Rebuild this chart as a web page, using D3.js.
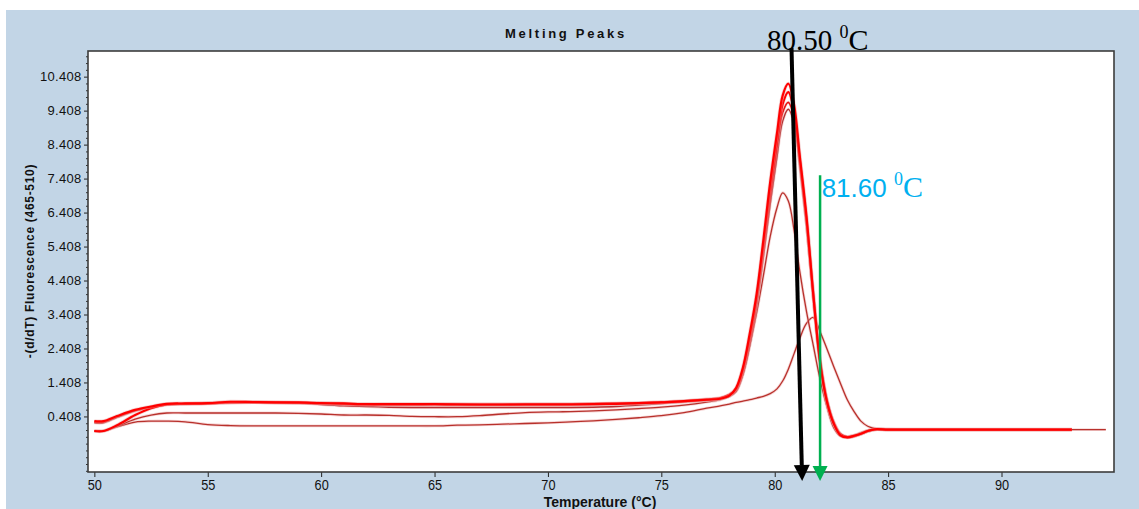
<!DOCTYPE html>
<html><head><meta charset="utf-8">
<script src="https://cdn.jsdelivr.net/npm/d3@7"></script>
<style>body{margin:0;background:#fff}svg{display:block}</style>
</head><body>
<svg id="c" width="1139" height="509"></svg>
<script>
// ---------------- data ----------------
const temps = [50,50.4,51,51.8,52.5,53.2,54,55,56,57,58,59,60,61,62,63,64,65,66,67,68,69,70,71,72,73,74,75,76,77,77.6,78,78.3,78.6,78.9,79.2,79.5,79.8,80.1,80.35,80.6,80.85,81.1,81.4,81.7,82.0,82.3,82.6,82.9,83.2,83.5,83.8,84.1,84.4,85,86,87,88,89,90,91,92,93.1,94.6];

const sampleH1 = [0.27,0.27,0.42,0.60,0.70,0.78,0.79,0.80,0.84,0.83,0.82,0.82,0.80,0.79,0.77,0.77,0.77,0.77,0.76,0.76,0.76,0.76,0.76,0.76,0.77,0.78,0.80,0.82,0.86,0.90,0.93,1.02,1.25,1.85,2.85,4.00,5.60,7.30,8.75,9.85,10.20,9.60,8.10,6.30,4.00,2.00,0.85,0.20,-0.15,-0.21,-0.16,-0.10,-0.02,0.03,0.02,0.02,0.02,0.02,0.02,0.02,0.02,0.02,0.02,null];
const sampleH2 = [-0.02,-0.02,0.15,0.45,0.65,0.76,0.78,0.79,0.82,0.83,0.82,0.81,0.80,0.78,0.76,0.76,0.76,0.77,0.77,0.76,0.76,0.77,0.77,0.77,0.78,0.79,0.80,0.83,0.86,0.91,0.95,1.05,1.22,1.80,2.75,3.90,5.45,7.10,8.50,9.60,9.95,9.40,8.00,6.20,4.00,2.05,0.88,0.22,-0.12,-0.20,-0.17,-0.10,-0.02,0.03,0.02,0.02,0.02,0.02,0.02,0.02,0.02,0.02,0.02,null];
const sampleH3 = [0.24,0.24,0.40,0.58,0.69,0.77,0.78,0.79,0.81,0.82,0.81,0.80,0.79,0.76,0.75,0.75,0.75,0.76,0.75,0.74,0.74,0.75,0.75,0.76,0.76,0.77,0.79,0.81,0.84,0.89,0.93,1.03,1.18,1.70,2.60,3.75,5.25,6.85,8.30,9.35,9.65,9.20,7.90,6.10,3.95,2.00,0.85,0.20,-0.14,-0.21,-0.17,-0.11,-0.03,0.02,0.02,0.02,0.02,0.02,0.02,0.02,0.02,0.02,0.02,null];
const sampleH4 = [0.22,0.22,0.38,0.57,0.68,0.76,0.78,0.80,0.83,0.83,0.82,0.81,0.76,0.72,0.70,0.68,0.67,0.67,0.67,0.67,0.67,0.67,0.67,0.67,0.68,0.70,0.74,0.79,0.84,0.88,0.92,1.00,1.15,1.65,2.50,3.65,5.10,6.65,8.05,9.10,9.45,9.05,7.80,6.05,3.95,2.05,0.90,0.25,-0.10,-0.19,-0.16,-0.10,-0.03,0.02,0.02,0.02,0.02,0.02,0.02,0.02,0.02,0.02,0.02,null];
const sampleP7 = [-0.02,-0.02,0.12,0.33,0.45,0.51,0.51,0.51,0.51,0.51,0.51,0.50,0.48,0.45,0.45,0.44,0.41,0.40,0.40,0.43,0.48,0.52,0.54,0.55,0.57,0.60,0.64,0.68,0.74,0.83,0.90,1.00,1.15,1.65,2.50,3.45,4.55,5.70,6.55,6.99,6.75,5.90,4.70,3.50,2.50,1.50,0.70,0.08,-0.17,-0.19,-0.14,-0.07,0.00,0.02,0.02,0.02,0.02,0.02,0.02,0.02,0.02,0.02,0.02,null];
const sampleP3 = [-0.02,-0.02,0.10,0.24,0.27,0.27,0.25,0.17,0.14,0.13,0.13,0.13,0.13,0.13,0.13,0.13,0.13,0.13,0.15,0.16,0.18,0.20,0.22,0.25,0.28,0.32,0.37,0.43,0.52,0.65,0.72,0.77,0.82,0.86,0.90,0.95,1.00,1.08,1.22,1.45,1.80,2.25,2.70,3.15,3.32,2.90,2.40,1.88,1.38,0.90,0.55,0.27,0.12,0.06,0.03,0.02,0.02,0.02,0.02,0.02,0.02,0.02,0.02,0.02];

const yTickValues = [0.408,1.408,2.408,3.408,4.408,5.408,6.408,7.408,8.408,9.408,10.408];
const xTickValues = [50,55,60,65,70,75,80,85,90];

const chartTitle = "Melting Peaks";
const xTitle = "Temperature (°C)";
const yTitle = "-(d/dT) Fluorescence (465-510)";

// annotation markers (data units: temperature, fluorescence)
const tmBlack = {label:"80.50", top:[80.74, 11.25], bottom:[81.21, -1.49], text:[79.66, 11.19]};
const tmGreen = {label:"81.60", top:[82.0, 7.51], bottom:[82.0, -1.49], text:[82.07, 6.87]};

// ---------------- drawing ----------------
const svg = d3.select("#c");
svg.append("rect").attr("x",6).attr("y",10).attr("width",1133).attr("height",499).attr("fill","#c2d5e6");

const L = 88, R = 1114, T = 51, B = 472;
const x = d3.scaleLinear().domain([49.72, 94.96]).range([L, R]);
const y = d3.scaleLinear().domain([-1.227, 11.163]).range([B, T]);

svg.append("rect").attr("x",L).attr("y",T).attr("width",R-L).attr("height",B-T).attr("fill","#fff");

// minor y ticks
const minorVals = d3.range(-8, 54).map(k => +(0.408 + 0.2*k).toFixed(3))
  .filter(v => v >= -1.227 && v <= 11.163 && !yTickValues.some(m => Math.abs(m - v) < 1e-6));
svg.append("g").attr("transform",`translate(${L},0)`)
  .call(d3.axisLeft(y).tickValues(minorVals).tickSize(2).tickFormat("").tickSizeOuter(0))
  .call(g => g.select(".domain").remove())
  .call(g => g.selectAll("line").attr("stroke","#333"));

const yAx = svg.append("g").attr("transform",`translate(${L},0)`)
  .call(d3.axisLeft(y).tickValues(yTickValues).tickFormat(d3.format(".3f")).tickSize(4).tickPadding(2.5).tickSizeOuter(0));
yAx.select(".domain").remove();
yAx.selectAll("line").attr("stroke","#222");
yAx.selectAll("text").attr("font-family","'Liberation Sans', Arial, sans-serif").attr("font-size","13px").attr("letter-spacing","0.3px").attr("fill","#111");

const xAx = svg.append("g").attr("transform",`translate(0,${B})`)
  .call(d3.axisBottom(x).tickValues(xTickValues).tickFormat(d3.format("d")).tickSize(5).tickPadding(2.5).tickSizeOuter(0));
xAx.select(".domain").remove();
xAx.selectAll("line").attr("stroke","#222");
xAx.selectAll("text").attr("font-family","'Liberation Sans', Arial, sans-serif").attr("font-size","15px").attr("fill","#111").attr("transform","scale(0.85,1)");

// frame
svg.append("rect").attr("x",L).attr("y",T).attr("width",R-L).attr("height",B-T)
  .attr("fill","none").attr("stroke","#3c3c3c").attr("stroke-width",1.6);

// curves
const line = d3.line()
  .defined(d => d[1] !== null)
  .x(d => x(d[0])).y(d => y(d[1]))
  .curve(d3.curveCatmullRom.alpha(0.5));

const series = [
  {v: sampleP3, c: "#b8312c", w: 1.3},
  {v: sampleP7, c: "#b8312c", w: 1.3},
  {v: sampleH4, c: "#b23030", w: 1.4},
  {v: sampleH3, c: "#e81010", w: 1.6},
  {v: sampleH2, c: "#ff0000", w: 2.2},
  {v: sampleH1, c: "#ff0000", w: 2.2}
];
const gCurves = svg.append("g");
series.forEach(s => {
  const pts = temps.map((t,i) => [t, s.v[i]]);
  gCurves.append("path").datum(pts).attr("d", line)
    .attr("fill","none").attr("stroke","#eaa6a6").attr("stroke-width", s.w + 1.6).attr("stroke-opacity",0.45);
  gCurves.append("path").datum(pts).attr("d", line)
    .attr("fill","none").attr("stroke", s.c).attr("stroke-width", s.w).attr("stroke-linejoin","round");
});

// titles
svg.append("text").attr("x",566).attr("y",38).attr("text-anchor","middle")
  .attr("font-family","'Liberation Sans', Arial, sans-serif").attr("font-weight","bold")
  .attr("font-size","13px").attr("letter-spacing","2.7px").attr("fill","#111").text(chartTitle);
svg.append("text").attr("x",600).attr("y",507).attr("text-anchor","middle")
  .attr("font-family","'Liberation Sans', Arial, sans-serif").attr("font-weight","bold")
  .attr("font-size","14px").attr("fill","#111").text(xTitle);
svg.append("text").attr("transform","translate(34,261) rotate(-90)").attr("text-anchor","middle")
  .attr("font-family","'Liberation Sans', Arial, sans-serif").attr("font-weight","bold")
  .attr("font-size","12px").attr("letter-spacing","0.7px").attr("fill","#111").text(yTitle);

// annotation arrows
function arrow(m, color, width, head) {
  const x1 = x(m.top[0]), y1 = y(m.top[1]), x2 = x(m.bottom[0]), y2 = y(m.bottom[1]);
  const ang = Math.atan2(y2 - y1, x2 - x1);
  const bx = x2 - head * Math.cos(ang), by = y2 - head * Math.sin(ang);
  const px = -Math.sin(ang), py = Math.cos(ang), hw = head * 0.5;
  svg.append("line").attr("x1",x1).attr("y1",y1).attr("x2",bx).attr("y2",by)
    .attr("stroke",color).attr("stroke-width",width);
  svg.append("polygon").attr("points",
    [[x2,y2],[bx + px*hw, by + py*hw],[bx - px*hw, by - py*hw]].map(p => p.join(",")).join(" "))
    .attr("fill",color);
}
arrow(tmBlack, "#000", 4, 16);
arrow(tmGreen, "#00b050", 2.5, 15);

// annotation labels
const tb = svg.append("text").attr("x", x(tmBlack.text[0])).attr("y", y(tmBlack.text[1]))
  .attr("font-family","'Liberation Serif', 'Times New Roman', serif").attr("font-size","29px").attr("fill","#000");
tb.append("tspan").text(tmBlack.label + " ");
tb.append("tspan").attr("font-size","18px").attr("dy",-12).text("0");
tb.append("tspan").attr("font-size","30px").attr("dy",12).text("C");

const tg = svg.append("text").attr("x", x(tmGreen.text[0])).attr("y", y(tmGreen.text[1]))
  .attr("fill","#00b0f0");
tg.append("tspan").attr("font-family","'Liberation Sans', Arial, sans-serif").attr("font-size","26px").text(tmGreen.label + " ");
tg.append("tspan").attr("font-family","'Liberation Serif', serif").attr("font-size","18px").attr("dy",-12).text("0");
tg.append("tspan").attr("font-family","'Liberation Serif', serif").attr("font-size","30px").attr("dy",12).text("C");
</script>
</body></html>
